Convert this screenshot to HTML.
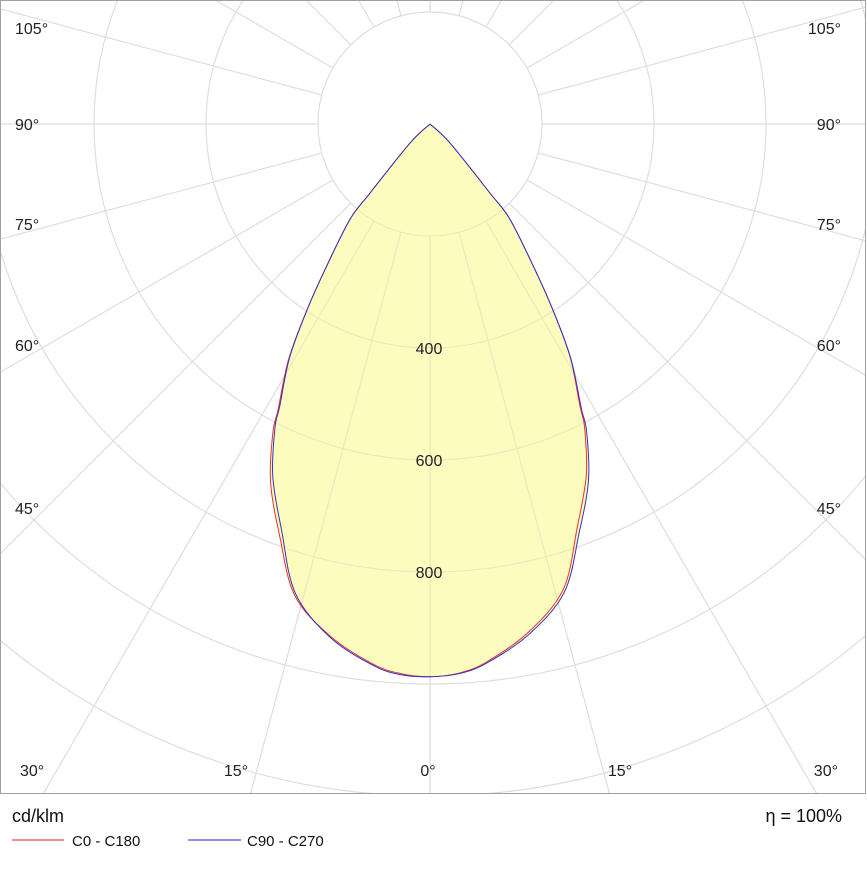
<!DOCTYPE html>
<html><head><meta charset="utf-8"><style>
body{margin:0;background:#fff;width:867px;height:893px;overflow:hidden;font-family:"Liberation Sans",sans-serif}
svg{display:block}
</style></head><body>
<svg width="867" height="893">
<defs><clipPath id="plotclip"><rect x="0" y="0" width="866" height="794"/></clipPath><clipPath id="lc"><path id="lcpath"/></clipPath></defs>
<g id="grid" clip-path="url(#plotclip)"></g>
<g id="lobes"></g>
<g id="labels"></g>
<rect x="0.5" y="0.5" width="865" height="793" fill="none" stroke="#a0a0a0"/>
<text x="12" y="822" font-size="18" fill="#111">cd/klm</text>
<text x="842" y="822" font-size="18" fill="#111" text-anchor="end">η = 100%</text>
<g><line x1="12" y1="840" x2="64" y2="840" stroke="#e02020"/><text x="72" y="846" font-size="15" fill="#111">C0 - C180</text></g>
<g><line x1="188" y1="840" x2="241" y2="840" stroke="#2020c0"/><text x="247" y="846" font-size="15" fill="#111">C90 - C270</text></g>
</svg>
<script>
const angles=[0,3,6,11,16,20,24,27,28,31,33.5,36,40,41,46.5,49];
const c0   =[987,982,966,924,864,768,686,608,570,486,396,314,222,162,49,0];
const c180 =[987,983,970,932,876,784,700,618,578,490,398,315,223,163,49,0];
const c90  =[987,983,968,928,870,778,696,616,576,488,397,314,222,162,49,0];
const c270 =[987,985,972,934,872,774,690,610,572,487,397,314,222,162,49,0];
const ringValues=[200,400,600,800,1000,1200];
const ringLabels=["400","600","800"];
const cx=430,cy=124,pxPer=112/200;
const NS="http://www.w3.org/2000/svg";
function r(v){return v*pxPer;}
function pt(a,v,side){const t=a*Math.PI/180;return [cx+side*r(v)*Math.sin(t),cy+r(v)*Math.cos(t)];}
function mk(tag,attrs,parent){const e=document.createElementNS(NS,tag);for(const k in attrs)e.setAttribute(k,attrs[k]);parent.appendChild(e);return e;}
function smooth(pts){let d='M'+pts[0][0].toFixed(1)+','+pts[0][1].toFixed(1);
for(let i=0;i<pts.length-1;i++){const p0=pts[Math.max(i-1,0)],p1=pts[i],p2=pts[i+1],p3=pts[Math.min(i+2,pts.length-1)];
const c1=[p1[0]+(p2[0]-p0[0])/6,p1[1]+(p2[1]-p0[1])/6],c2=[p2[0]-(p3[0]-p1[0])/6,p2[1]-(p3[1]-p1[1])/6];
d+='C'+c1[0].toFixed(1)+','+c1[1].toFixed(1)+' '+c2[0].toFixed(1)+','+c2[1].toFixed(1)+' '+p2[0].toFixed(1)+','+p2[1].toFixed(1);}
return d;}
function path(right,left){let pts=[];for(let i=angles.length-1;i>=0;i--)pts.push(pt(angles[i],left[i],-1));for(let i=1;i<angles.length;i++)pts.push(pt(angles[i],right[i],1));return smooth(pts);}
const grid=document.getElementById('grid');
ringValues.forEach(v=>{const c=mk('circle',{cx:cx,cy:cy,r:r(v),fill:'none',stroke:'#dedede','stroke-width':1.2},grid);

});
for(let a=0;a<=180;a+=15){[1,-1].forEach(s=>{const p1=pt(a,200,s),p2=pt(a,2000,s);
const l=mk('line',{x1:p1[0],y1:p1[1],x2:p2[0],y2:p2[1],stroke:'#dedede','stroke-width':1.2},grid);

});}
const lobes=document.getElementById('lobes');
const fillD=path(c90,c180);
document.getElementById('lcpath').setAttribute('d',fillD);
const fill=mk('path',{d:fillD,fill:'#fdfcbf',stroke:'none'},lobes);


ringValues.forEach(v=>{const c=mk('circle',{cx:cx,cy:cy,r:r(v),fill:'none',stroke:'#ebe9bc','stroke-width':1.2,'clip-path':'url(#lc)'},lobes);

});
for(let a=0;a<=60;a+=15){[1,-1].forEach(s=>{const p1=pt(a,200,s),p2=pt(a,1200,s);
const l=mk('line',{x1:p1[0],y1:p1[1],x2:p2[0],y2:p2[1],stroke:'#ebe9bc','stroke-width':1.2,'clip-path':'url(#lc)'},lobes);

});}
const red=mk('path',{d:path(c0,c180),fill:'none',stroke:'#e83030','stroke-width':1},lobes);


const blue=mk('path',{d:path(c90,c270),fill:'none',stroke:'#3030c8','stroke-width':1},lobes);


const lab=document.getElementById('labels');
ringLabels.forEach(t=>{const y=cy+r(+t)+6;const e=mk('text',{x:cx-1,y:y,'font-size':16,fill:'#222','text-anchor':'middle'},lab);e.textContent=t;

});
const side=[["105°",34],["90°",130],["75°",230],["60°",351],["45°",514],["30°",776]];
side.forEach(([t,y])=>{const a=mk('text',{x:t==="30°"?20:15,y:y,'font-size':16,fill:'#222'},lab);a.textContent=t;


const b=mk('text',{x:t==="30°"?838:841,y:y,'font-size':16,fill:'#222','text-anchor':'end'},lab);b.textContent=t;

});
[["15°",236],["0°",428],["15°",620]].forEach(([t,x])=>{const e=mk('text',{x:x,y:776,'font-size':16,fill:'#222','text-anchor':'middle'},lab);e.textContent=t;

});
</script>
</body></html>
